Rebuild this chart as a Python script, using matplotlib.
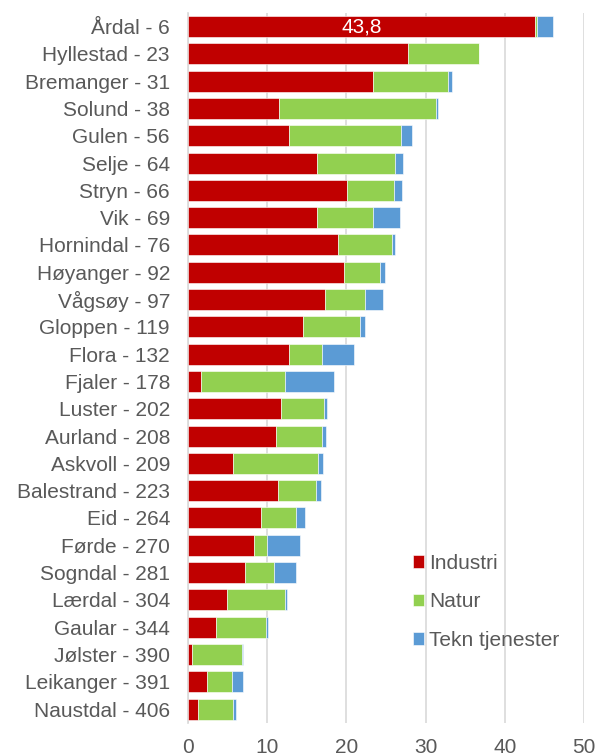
import numpy as np
import matplotlib
matplotlib.use('Agg')
from matplotlib import pyplot as plt

plt.rcParams['font.family'] = ['Liberation Sans', 'DejaVu Sans']

kommuner = ['Årdal - 6', 'Hyllestad - 23', 'Bremanger - 31', 'Solund - 38', 'Gulen - 56',
            'Selje - 64', 'Stryn - 66', 'Vik - 69', 'Hornindal - 76', 'Høyanger - 92',
            'Vågsøy - 97', 'Gloppen - 119', 'Flora - 132', 'Fjaler - 178', 'Luster - 202',
            'Aurland - 208', 'Askvoll - 209', 'Balestrand - 223', 'Eid - 264', 'Førde - 270',
            'Sogndal - 281', 'Lærdal - 304', 'Gaular - 344', 'Jølster - 390', 'Leikanger - 391',
            'Naustdal - 406']
industri = [43.8, 27.8, 23.4, 11.5, 12.8, 16.3, 20.1, 16.3, 19.0, 19.7, 17.3, 14.5, 12.7,
            1.6, 11.7, 11.1, 5.7, 11.3, 9.2, 8.3, 7.2, 4.9, 3.5, 0.5, 2.4, 1.2]
natur = [0.3, 8.9, 9.5, 19.8, 14.1, 9.9, 5.9, 7.0, 6.8, 4.5, 5.0, 7.2, 4.2,
         10.7, 5.5, 5.8, 10.7, 4.9, 4.4, 1.7, 3.7, 7.4, 6.4, 6.3, 3.1, 4.5]
tekn = [2.0, 0.1, 0.5, 0.3, 1.4, 1.0, 1.0, 3.5, 0.4, 0.7, 2.3, 0.6, 4.1,
        6.1, 0.3, 0.5, 0.7, 0.6, 1.2, 4.2, 2.7, 0.2, 0.2, 0.2, 1.4, 0.3]

industri = np.array(industri)
natur = np.array(natur)
tekn = np.array(tekn)
y = np.arange(len(kommuner))

fig = plt.figure(figsize=(5.97, 7.56), dpi=100)
ax = fig.add_axes([0.315, 0.044, 0.663, 0.939])

h = 0.77
ax.barh(y, industri, height=h, color='#C00000', edgecolor='white', linewidth=0.4, label='Industri', zorder=3)
ax.barh(y, natur, left=industri, height=h, color='#92D050', edgecolor='white', linewidth=0.4, label='Natur', zorder=3)
ax.barh(y, tekn, left=industri + natur, height=h, color='#5B9BD5', edgecolor='white', linewidth=0.4, label='Tekn tjenester', zorder=3)

ax.text(industri[0] / 2, y[0], '43,8', color='white', fontsize=15, ha='center', va='center', zorder=4)

ax.set_yticks(y)
ax.set_yticklabels(kommuner, fontsize=15, color='#595959')
ax.set_ylim(len(kommuner) - 0.5, -0.5)
ax.set_xlim(0, 50)
ax.set_xticks(np.arange(0, 51, 10))
ax.tick_params(axis='x', labelsize=15, labelcolor='#595959', length=0, pad=11)
ax.tick_params(axis='y', length=0, pad=13)
ax.grid(axis='x', color='#D9D9D9', linewidth=1.2, zorder=0)
for s in ['top', 'right', 'bottom']:
    ax.spines[s].set_visible(False)
ax.spines['left'].set_color('#D9D9D9')
ax.spines['left'].set_linewidth(1.2)

leg = ax.legend(loc='upper left', bbox_to_anchor=(413 / 597, (756 - 554) / 756),
                bbox_transform=fig.transFigure, frameon=False, fontsize=15, borderpad=0,
                borderaxespad=0, handlelength=0.55, handleheight=0.55, handletextpad=0.22,
                labelspacing=0.93)
for t in leg.get_texts():
    t.set_color('#595959')

fig.savefig('out.png', dpi=100)
